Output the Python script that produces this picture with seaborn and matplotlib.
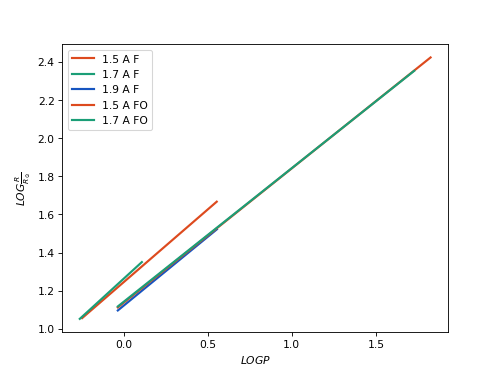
import matplotlib
matplotlib.use("Agg")
import matplotlib.pyplot as plt
import seaborn as sns
import pandas as pd

# period-radius relations, end points
logp_15_f = [-0.246, 0.554]
logr_15_f = [1.056, 1.667]
logp_17_f = [-0.26, 0.109]
logr_17_f = [1.052, 1.350]
logp_19_f = [-0.034, 0.555]
logr_19_f = [1.096, 1.522]
logp_15_fo = [-0.034, 1.825]
logr_15_fo = [1.112, 2.424]
logp_17_fo = [-0.034, 1.728]
logr_17_fo = [1.117, 2.354]

labels = ["1.5 A F", "1.7 A F", "1.9 A F", "1.5 A FO", "1.7 A FO"]
colors = ["#dd4a1e", "#1b9e77", "#1755c0", "#dd4a1e", "#1b9e77"]
series = [(logp_15_f, logr_15_f), (logp_17_f, logr_17_f), (logp_19_f, logr_19_f),
          (logp_15_fo, logr_15_fo), (logp_17_fo, logr_17_fo)]

fig, ax = plt.subplots(figsize=(6.4, 4.8), dpi=77.8)
for (x, y), lab, c in zip(series, labels, colors):
    df = pd.DataFrame({"logp": x, "logr": y})
    sns.lineplot(data=df, x="logp", y="logr", ax=ax, color=c, label=lab, linewidth=2)

ax.set_xlabel(r"$LOGP$")
ax.set_ylabel(r"$LOG\frac{R}{R_{\odot}}$")
ax.legend(loc="upper left")
fig.savefig("out.png")
